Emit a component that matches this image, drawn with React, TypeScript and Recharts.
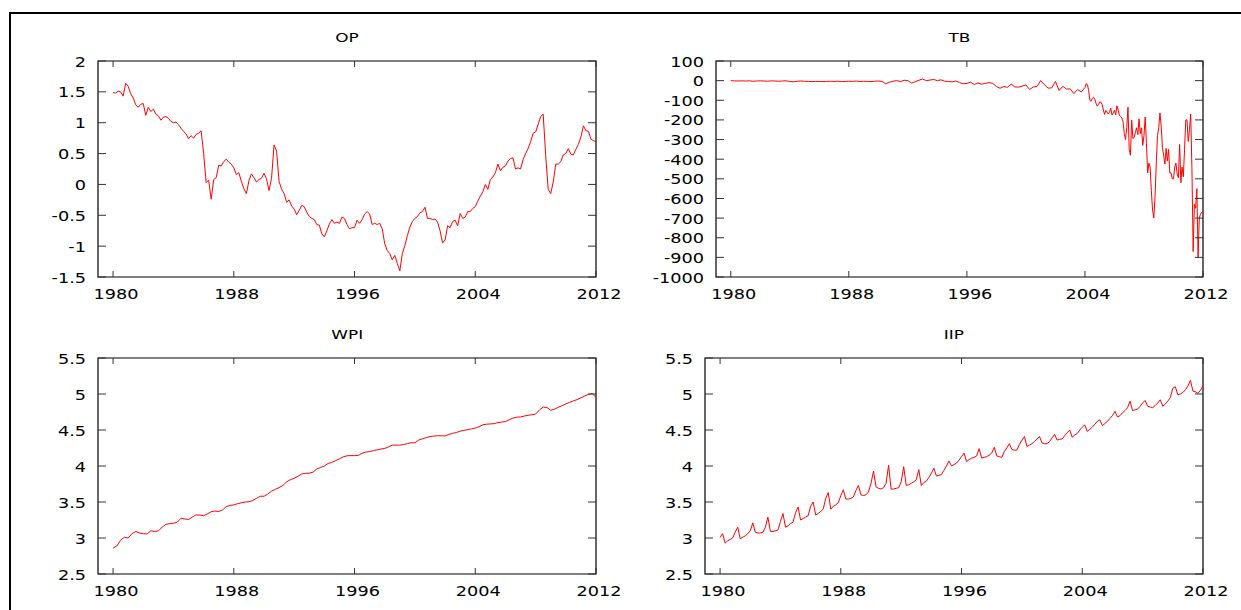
import { LineChart, Line, XAxis, YAxis, ReferenceArea } from "recharts";

// time axis
const yearTicks = [1980, 1988, 1996, 2004, 2012];
const yearDomain: [number, number] = [1979, 2012];

// OP, every two months from 1980
const opValues = [
  1.49, 1.48, 1.51, 1.5, 1.43, 1.64, 1.59, 1.47, 1.4, 1.29,
  1.25, 1.3, 1.31, 1.12, 1.25, 1.18, 1.22, 1.14, 1.11, 1.04,
  1.09, 1.1, 1.07, 1.02, 1.0, 1.01, 0.97, 0.91, 0.86, 0.82,
  0.74, 0.79, 0.75, 0.81, 0.83, 0.87, 0.5, 0.03, 0.07, -0.24,
  0.08, 0.11, 0.31, 0.3, 0.37, 0.41, 0.36, 0.33, 0.27, 0.16,
  0.19, 0.05, -0.07, -0.15, 0.06, 0.17, 0.11, 0.04, 0.08, 0.1,
  0.18, 0.09, -0.1, 0.1, 0.64, 0.54, 0.05, -0.08, -0.15, -0.29,
  -0.25, -0.35, -0.4, -0.49, -0.42, -0.34, -0.36, -0.45, -0.52, -0.55,
  -0.57, -0.65, -0.66, -0.8, -0.85, -0.75, -0.64, -0.57, -0.63, -0.61,
  -0.63, -0.53, -0.55, -0.65, -0.72, -0.7, -0.7, -0.58, -0.63, -0.57,
  -0.48, -0.44, -0.48, -0.65, -0.63, -0.65, -0.63, -0.72, -0.96, -1.07,
  -1.12, -1.22, -1.15, -1.28, -1.4, -1.12, -0.99, -0.83, -0.69, -0.6,
  -0.55, -0.52, -0.46, -0.44, -0.37, -0.55, -0.55, -0.57, -0.56, -0.61,
  -0.75, -0.95, -0.9, -0.67, -0.7, -0.6, -0.58, -0.67, -0.47, -0.55,
  -0.53, -0.44, -0.44, -0.39, -0.36, -0.27, -0.19, -0.12, 0.0, -0.08,
  0.08, 0.12, 0.19, 0.33, 0.22, 0.28, 0.3, 0.38, 0.42, 0.43,
  0.25, 0.27, 0.25, 0.4, 0.5, 0.58, 0.69, 0.83, 0.85, 0.97,
  1.1, 1.14, 0.47, -0.08, -0.15, 0.04, 0.33, 0.33, 0.37, 0.48,
  0.5, 0.58, 0.49, 0.48, 0.57, 0.65, 0.77, 0.95, 0.87, 0.86,
  0.73, 0.71, 0.69,
];

// TB, quarterly 1980-2003, then monthly 2004-2012
const tbQuarterly = [
  0, -1, -2, -1, -2, -1, -3, -2, -1, -2, -3, -1, -2, -3, -2, -1,
  -4, -6, -3, -2, -3, -4, -5, -4, -4, -5, -4, -3, -4, -3, -5, -4,
  -3, -4, -2, -5, -3, -4, -5, -3, -2, -4, -16, -8, -3, 0, -5, 2,
  0, -12, -6, 2, 8, 0, 3, 6, 0, 4, -3, -4, -6, -2, -10, -16,
  -14, -8, -20, -12, -18, -14, -10, -14, -30, -39, -30, -34, -18, -32, -33, -28,
  -22, -45, -32, -30, 0, -20, -38, -37, -4, -50, -29, -43, -42, -66, -45, -58,
];
const tbMonthly = [
  -35, -15, -20, -50, -100, -105, -90, -85, -95, -115, -130, -122,
  -108, -110, -122, -150, -172, -152, -160, -170, -160, -140, -175, -165,
  -150, -175, -128, -150, -175, -183, -190, -210, -270, -300, -240, -135,
  -350, -380, -200, -295, -290, -265, -240, -275, -195, -270, -240, -330,
  -280, -185, -320, -470, -420, -440, -560, -660, -700, -590, -420, -280,
  -240, -165, -230, -340, -380, -425, -345, -410, -350, -470, -470, -500,
  -500, -440, -420, -475, -495, -325, -520, -440, -490, -350, -200, -200,
  -310, -250, -170, -450, -870, -630, -650, -550, -900, -700, -680, -670,
  -665,
];

// WPI, quarterly from 1980
const wpiValues = [
  2.86, 2.89, 2.97, 3.01, 3.0, 3.06, 3.09, 3.07, 3.06, 3.055,
  3.1, 3.09, 3.1, 3.15, 3.19, 3.2, 3.205, 3.22, 3.275, 3.265,
  3.257, 3.29, 3.322, 3.318, 3.31, 3.335, 3.365, 3.375, 3.368, 3.39,
  3.435, 3.452, 3.46, 3.476, 3.49, 3.5, 3.503, 3.52, 3.55, 3.58,
  3.58, 3.61, 3.65, 3.676, 3.7, 3.73, 3.78, 3.81, 3.83, 3.857,
  3.89, 3.897, 3.9, 3.915, 3.96, 3.98, 4.0, 4.035, 4.052, 4.075,
  4.1, 4.127, 4.142, 4.144, 4.144, 4.148, 4.176, 4.194, 4.2, 4.213,
  4.225, 4.236, 4.243, 4.265, 4.29, 4.29, 4.29, 4.298, 4.31, 4.323,
  4.322, 4.36, 4.378, 4.394, 4.409, 4.416, 4.42, 4.42, 4.418, 4.437,
  4.455, 4.465, 4.484, 4.495, 4.506, 4.516, 4.527, 4.546, 4.572, 4.581,
  4.584, 4.588, 4.603, 4.61, 4.616, 4.643, 4.666, 4.678, 4.681, 4.694,
  4.704, 4.712, 4.722, 4.778, 4.818, 4.813, 4.773, 4.79, 4.815, 4.838,
  4.862, 4.884, 4.905, 4.922, 4.947, 4.972, 4.995, 5.005, 4.954,
];

// IIP, every two months from 1980 (one row per year)
const iipValues = [
  3.01, 3.06, 2.93, 2.96, 2.98, 3.0,
  3.08, 3.15, 2.99, 3.01, 3.03, 3.06,
  3.1, 3.21, 3.08, 3.07, 3.07, 3.08,
  3.15, 3.29, 3.09, 3.09, 3.1, 3.11,
  3.23, 3.34, 3.15, 3.17, 3.2, 3.22,
  3.35, 3.43, 3.25, 3.27, 3.29, 3.31,
  3.44, 3.5, 3.32, 3.34, 3.37, 3.4,
  3.55, 3.63, 3.4, 3.44, 3.46, 3.49,
  3.59, 3.67, 3.54, 3.54, 3.55, 3.57,
  3.66, 3.73, 3.6, 3.59, 3.6, 3.64,
  3.76, 3.93, 3.71, 3.69, 3.68, 3.7,
  3.76, 4.01, 3.68, 3.68, 3.69, 3.7,
  3.78, 3.99, 3.73, 3.74, 3.76, 3.78,
  3.81, 3.95, 3.73, 3.77, 3.79, 3.84,
  3.9, 3.97, 3.86, 3.87, 3.88, 3.94,
  4.0, 4.07, 4.0, 4.02, 4.04, 4.08,
  4.13, 4.18, 4.06, 4.09, 4.11, 4.12,
  4.14, 4.24, 4.11, 4.12, 4.13, 4.15,
  4.18, 4.26, 4.14, 4.13, 4.12, 4.2,
  4.25, 4.31, 4.23, 4.22, 4.22, 4.3,
  4.36, 4.41, 4.27, 4.29, 4.31, 4.34,
  4.375, 4.41, 4.32, 4.31, 4.31, 4.34,
  4.39, 4.44, 4.36, 4.37, 4.375, 4.42,
  4.46, 4.5, 4.4, 4.43, 4.45, 4.5,
  4.54, 4.57, 4.48, 4.51, 4.54, 4.58,
  4.62, 4.64, 4.56, 4.59, 4.62, 4.66,
  4.7, 4.76, 4.68, 4.7, 4.74, 4.77,
  4.81, 4.9, 4.77, 4.78, 4.79, 4.83,
  4.875, 4.91, 4.83, 4.82, 4.81, 4.84,
  4.875, 4.92, 4.83, 4.86, 4.9, 4.95,
  5.08, 5.1, 4.99, 5.0, 5.02, 5.06,
  5.11, 5.19, 5.04, 5.03, 5.01, 5.05,
  5.12,
];

const opTicks = [-1.5, -1, -0.5, 0, 0.5, 1, 1.5, 2];
const tbTicks = [-1000, -900, -800, -700, -600, -500, -400, -300, -200, -100, 0, 100];
const levelTicks = [2.5, 3, 3.5, 4, 4.5, 5, 5.5];

function toSeries(start: number, step: number, values: number[]) {
  return values.map((v, i) => ({ t: start + i * step, v }));
}

const opData = toSeries(1980, 1 / 6, opValues);
const tbData = [
  ...toSeries(1980, 0.25, tbQuarterly),
  ...toSeries(2004, 1 / 12, tbMonthly),
];
const wpiData = toSeries(1980, 0.25, wpiValues);
const iipData = toSeries(1980, 1 / 6, iipValues);

const FONT = "DejaVu Sans";
const STRETCH = 1.3; // the original is stretched sideways
const PAD_L = 80;
const PAD_T = 40;
const PAD_R = 30;
const PAD_B = 35;

function XTick(props: any) {
  const { x, y, payload, plotH } = props;
  return (
    <g>
      <line x1={x} x2={x} y1={y} y2={y - 6} stroke="#333" />
      <line x1={x} x2={x} y1={y - plotH} y2={y - plotH + 6} stroke="#333" />
      <text
        transform={`translate(${x + 3},${y + 22}) scale(${STRETCH},1)`}
        textAnchor="middle"
        fontFamily={FONT}
        fontSize={13.6}
        fill="#000"
      >
        {payload.value}
      </text>
    </g>
  );
}

function YTick(props: any) {
  const { x, y, payload, plotW } = props;
  return (
    <g>
      <line x1={x} x2={x + 8} y1={y} y2={y} stroke="#333" />
      <line x1={x + plotW - 8} x2={x + plotW} y1={y} y2={y} stroke="#333" />
      <text
        transform={`translate(${x - 12},${y + 5.5}) scale(${STRETCH},1)`}
        textAnchor="end"
        fontFamily={FONT}
        fontSize={13.6}
        fill="#000"
      >
        {payload.value}
      </text>
    </g>
  );
}

interface PanelProps {
  title: string;
  data: { t: number; v: number }[];
  yDomain: [number, number];
  yTicks: number[];
  plotX: number;
  plotY: number;
  plotW: number;
  plotH: number;
}

function Panel({ title, data, yDomain, yTicks, plotX, plotY, plotW, plotH }: PanelProps) {
  return (
    <>
      <div
        style={{
          position: "absolute",
          left: plotX + plotW / 2 - 100,
          top: plotY - 31,
          width: 200,
          textAlign: "center",
          fontFamily: FONT,
          fontSize: 13,
          lineHeight: "16px",
          color: "#000",
        }}
      >
        <span style={{ display: "inline-block", transform: `scaleX(${STRETCH})` }}>{title}</span>
      </div>
      <div style={{ position: "absolute", left: plotX - PAD_L, top: plotY - PAD_T }}>
        <LineChart
          width={plotW + PAD_L + PAD_R}
          height={plotH + PAD_T + PAD_B}
          data={data}
          margin={{ top: PAD_T, right: PAD_R, bottom: 0, left: 0 }}
        >
          <XAxis
            dataKey="t"
            type="number"
            domain={yearDomain}
            ticks={yearTicks}
            interval={0}
            height={PAD_B}
            axisLine={false}
            tickLine={false}
            tickSize={0}
            tickMargin={0}
            allowDataOverflow
            tick={(p: any) => <XTick {...p} plotH={plotH} />}
          />
          <YAxis
            type="number"
            domain={yDomain}
            ticks={yTicks}
            interval={0}
            width={PAD_L}
            axisLine={false}
            tickLine={false}
            tickSize={0}
            tickMargin={0}
            allowDataOverflow
            tick={(p: any) => <YTick {...p} plotW={plotW} />}
          />
          <ReferenceArea
            x1={yearDomain[0]}
            x2={yearDomain[1]}
            y1={yDomain[0]}
            y2={yDomain[1]}
            fill="none"
            stroke="#000"
            strokeWidth={1.2}
            ifOverflow="visible"
          />
          <Line
            type="linear"
            dataKey="v"
            stroke="#ff0000"
            strokeWidth={1}
            dot={false}
            isAnimationActive={false}
          />
        </LineChart>
      </div>
    </>
  );
}

export default function App() {
  return (
    <div
      style={{
        position: "absolute",
        left: 0,
        top: 0,
        width: 1241,
        height: 610,
        background: "#fff",
        overflow: "hidden",
      }}
    >
      <div
        style={{
          position: "absolute",
          left: 9,
          top: 12,
          width: 1240,
          height: 600,
          borderTop: "2px solid #000",
          borderLeft: "2px solid #000",
        }}
      />
      <Panel title="OP" data={opData} yDomain={[-1.5, 2]} yTicks={opTicks} plotX={98} plotY={61} plotW={498} plotH={216} />
      <Panel title="TB" data={tbData} yDomain={[-1000, 100]} yTicks={tbTicks} plotX={716} plotY={61} plotW={487} plotH={216} />
      <Panel title="WPI" data={wpiData} yDomain={[2.5, 5.5]} yTicks={levelTicks} plotX={98} plotY={358} plotW={498} plotH={216} />
      <Panel title="IIP" data={iipData} yDomain={[2.5, 5.5]} yTicks={levelTicks} plotX={705} plotY={358} plotW={498} plotH={216} />
    </div>
  );
}
